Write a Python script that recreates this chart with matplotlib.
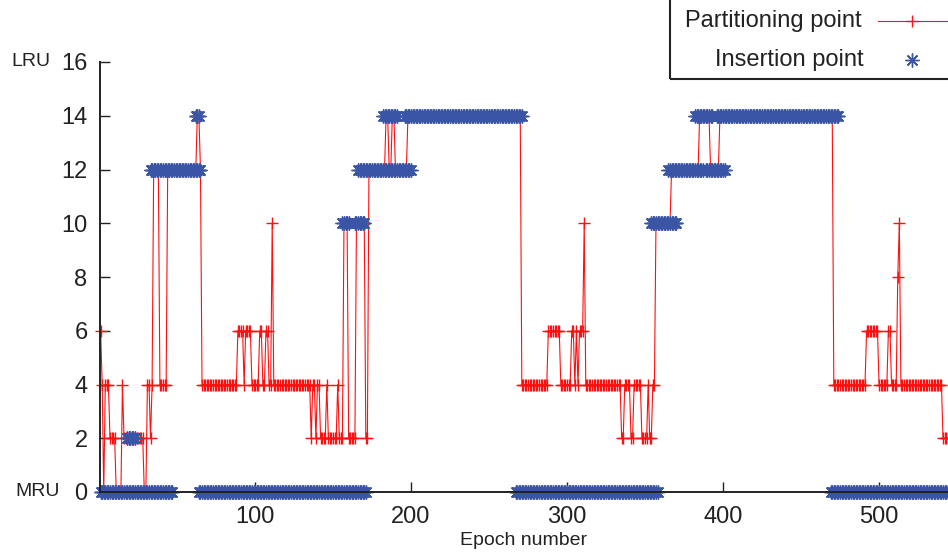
import numpy as np
import matplotlib
matplotlib.use('Agg')
import matplotlib.pyplot as plt
from matplotlib.lines import Line2D
from matplotlib.patches import Rectangle
import matplotlib.transforms as mtransforms

plt.rcParams['font.family'] = ['Liberation Sans', 'DejaVu Sans']

# partitioning point per epoch, stored as runs (value, number of epochs)
part_value = [6, 4, 0, 4, 2, 0, 4, 2, 0, 4, 2, 4, 12, 4, 12, 14, 12,
              4, 6, 4, 6, 4, 6, 4, 6, 4, 10, 4,
              2, 4, 2, 4, 2, 4, 2, 4, 2, 10, 2, 10, 2,
              12, 14, 12, 14, 12, 14,
              4, 6, 4, 6, 4, 6, 4, 6, 10, 4,
              2, 4, 2, 4, 2, 4, 2, 4,
              10, 12, 14, 12, 14,
              4, 6, 4, 6, 4, 8, 10, 4, 2]
part_len = [1, 1, 1, 3, 4, 4, 1, 13, 2, 2, 1, 1, 4, 5, 19, 2, 1,
            23, 4, 1, 4, 5, 2, 2, 2, 2, 1, 24,
            1, 2, 1, 2, 4, 1, 6, 1, 3, 3, 5, 6, 2,
            11, 2, 2, 2, 8, 73,
            17, 8, 7, 2, 1, 1, 1, 3, 1, 23,
            2, 4, 2, 5, 4, 1, 2, 2,
            10, 18, 7, 6, 73,
            21, 8, 6, 2, 4, 1, 1, 27, 4]

# insertion point, as epoch ranges (first, last) holding one value
ins_first = [1, 18, 33, 62, 64, 156, 164, 166, 182, 196, 267, 354, 365, 389, 382, 396, 469]
ins_last = [47, 23, 65, 64, 171, 160, 170, 200, 191, 271, 358, 370, 387, 401, 393, 474, 544]
ins_value = [0, 2, 12, 14, 0, 10, 10, 12, 14, 14, 0, 10, 12, 12, 14, 14, 0]

x_ticks = [100, 200, 300, 400, 500]
y_ticks = [0, 2, 4, 6, 8, 10, 12, 14, 16]

RED = '#ff1010'
BLUE = '#3a55a5'


def main():
    part = np.repeat(part_value, part_len)
    epochs = np.arange(1, len(part) + 1)

    ins_x, ins_y = [], []
    for a, b, v in zip(ins_first, ins_last, ins_value):
        ins_x.extend(range(a, b + 1))
        ins_y.extend([v] * (b - a + 1))

    fig = plt.figure(figsize=(9.48, 5.53), dpi=100)
    ax = fig.add_axes([100 / 948, 61 / 553, 848 / 948, 430 / 553])

    ax.plot(epochs, part, color=RED, lw=0.8, marker='+', markersize=8,
            markeredgewidth=1.0, clip_on=False, zorder=2)
    ax.plot(ins_x, ins_y, linestyle='none', color=BLUE, marker=(8, 2, 0),
            markersize=10, markeredgewidth=1.0, clip_on=False, zorder=3)

    ax.set_xlim(0.6, 544.2)
    ax.set_ylim(0, 16)
    ax.set_xticks(x_ticks)
    ax.set_yticks(y_ticks)
    for side in ('top', 'right'):
        ax.spines[side].set_visible(False)
    for side in ('left', 'bottom'):
        ax.spines[side].set_linewidth(1.4)
        ax.spines[side].set_color('#222222')
        ax.spines[side].set_zorder(4)
    ax.tick_params(axis='both', direction='in', length=7, width=1.0,
                   labelsize=17, colors='#222222')
    ax.tick_params(axis='x', pad=10)
    ax.tick_params(axis='y', pad=9)
    ax.set_xlabel('Epoch number', fontsize=14, labelpad=3, color='#222222')

    trans = mtransforms.blended_transform_factory(ax.transAxes, ax.transData)
    ax.text(-0.059, 16, 'LRU', transform=trans, ha='right', va='center',
            fontsize=14, color='#222222')
    ax.text(-0.047, 0, 'MRU', transform=trans, ha='right', va='center',
            fontsize=14, color='#222222')

    # key box in the top right corner, running past the figure edge
    fig.add_artist(Rectangle((670 / 948, 1 - 79 / 553), 0.5, 0.5,
                             transform=fig.transFigure, fill=False,
                             lw=1.5, ec='#222222', clip_on=False))
    y1 = 1 - 21 / 553
    y2 = 1 - 60 / 553
    fig.text(862 / 948, y1, 'Partitioning point', ha='right', va='center',
             fontsize=17, color='#222222')
    fig.text(864 / 948, y2, 'Insertion point', ha='right', va='center',
             fontsize=17, color='#222222')
    fig.add_artist(Line2D([878 / 948, 1.0], [y1, y1], transform=fig.transFigure,
                          color=RED, lw=0.8))
    fig.add_artist(Line2D([912 / 948], [y1], transform=fig.transFigure,
                          color=RED, marker='+', markersize=8, markeredgewidth=1.0))
    fig.add_artist(Line2D([912 / 948], [y2], transform=fig.transFigure,
                          color=BLUE, marker=(8, 2, 0), markersize=10,
                          markeredgewidth=1.0, linestyle='none'))

    fig.savefig('out.png', dpi=100)


if __name__ == '__main__':
    main()
